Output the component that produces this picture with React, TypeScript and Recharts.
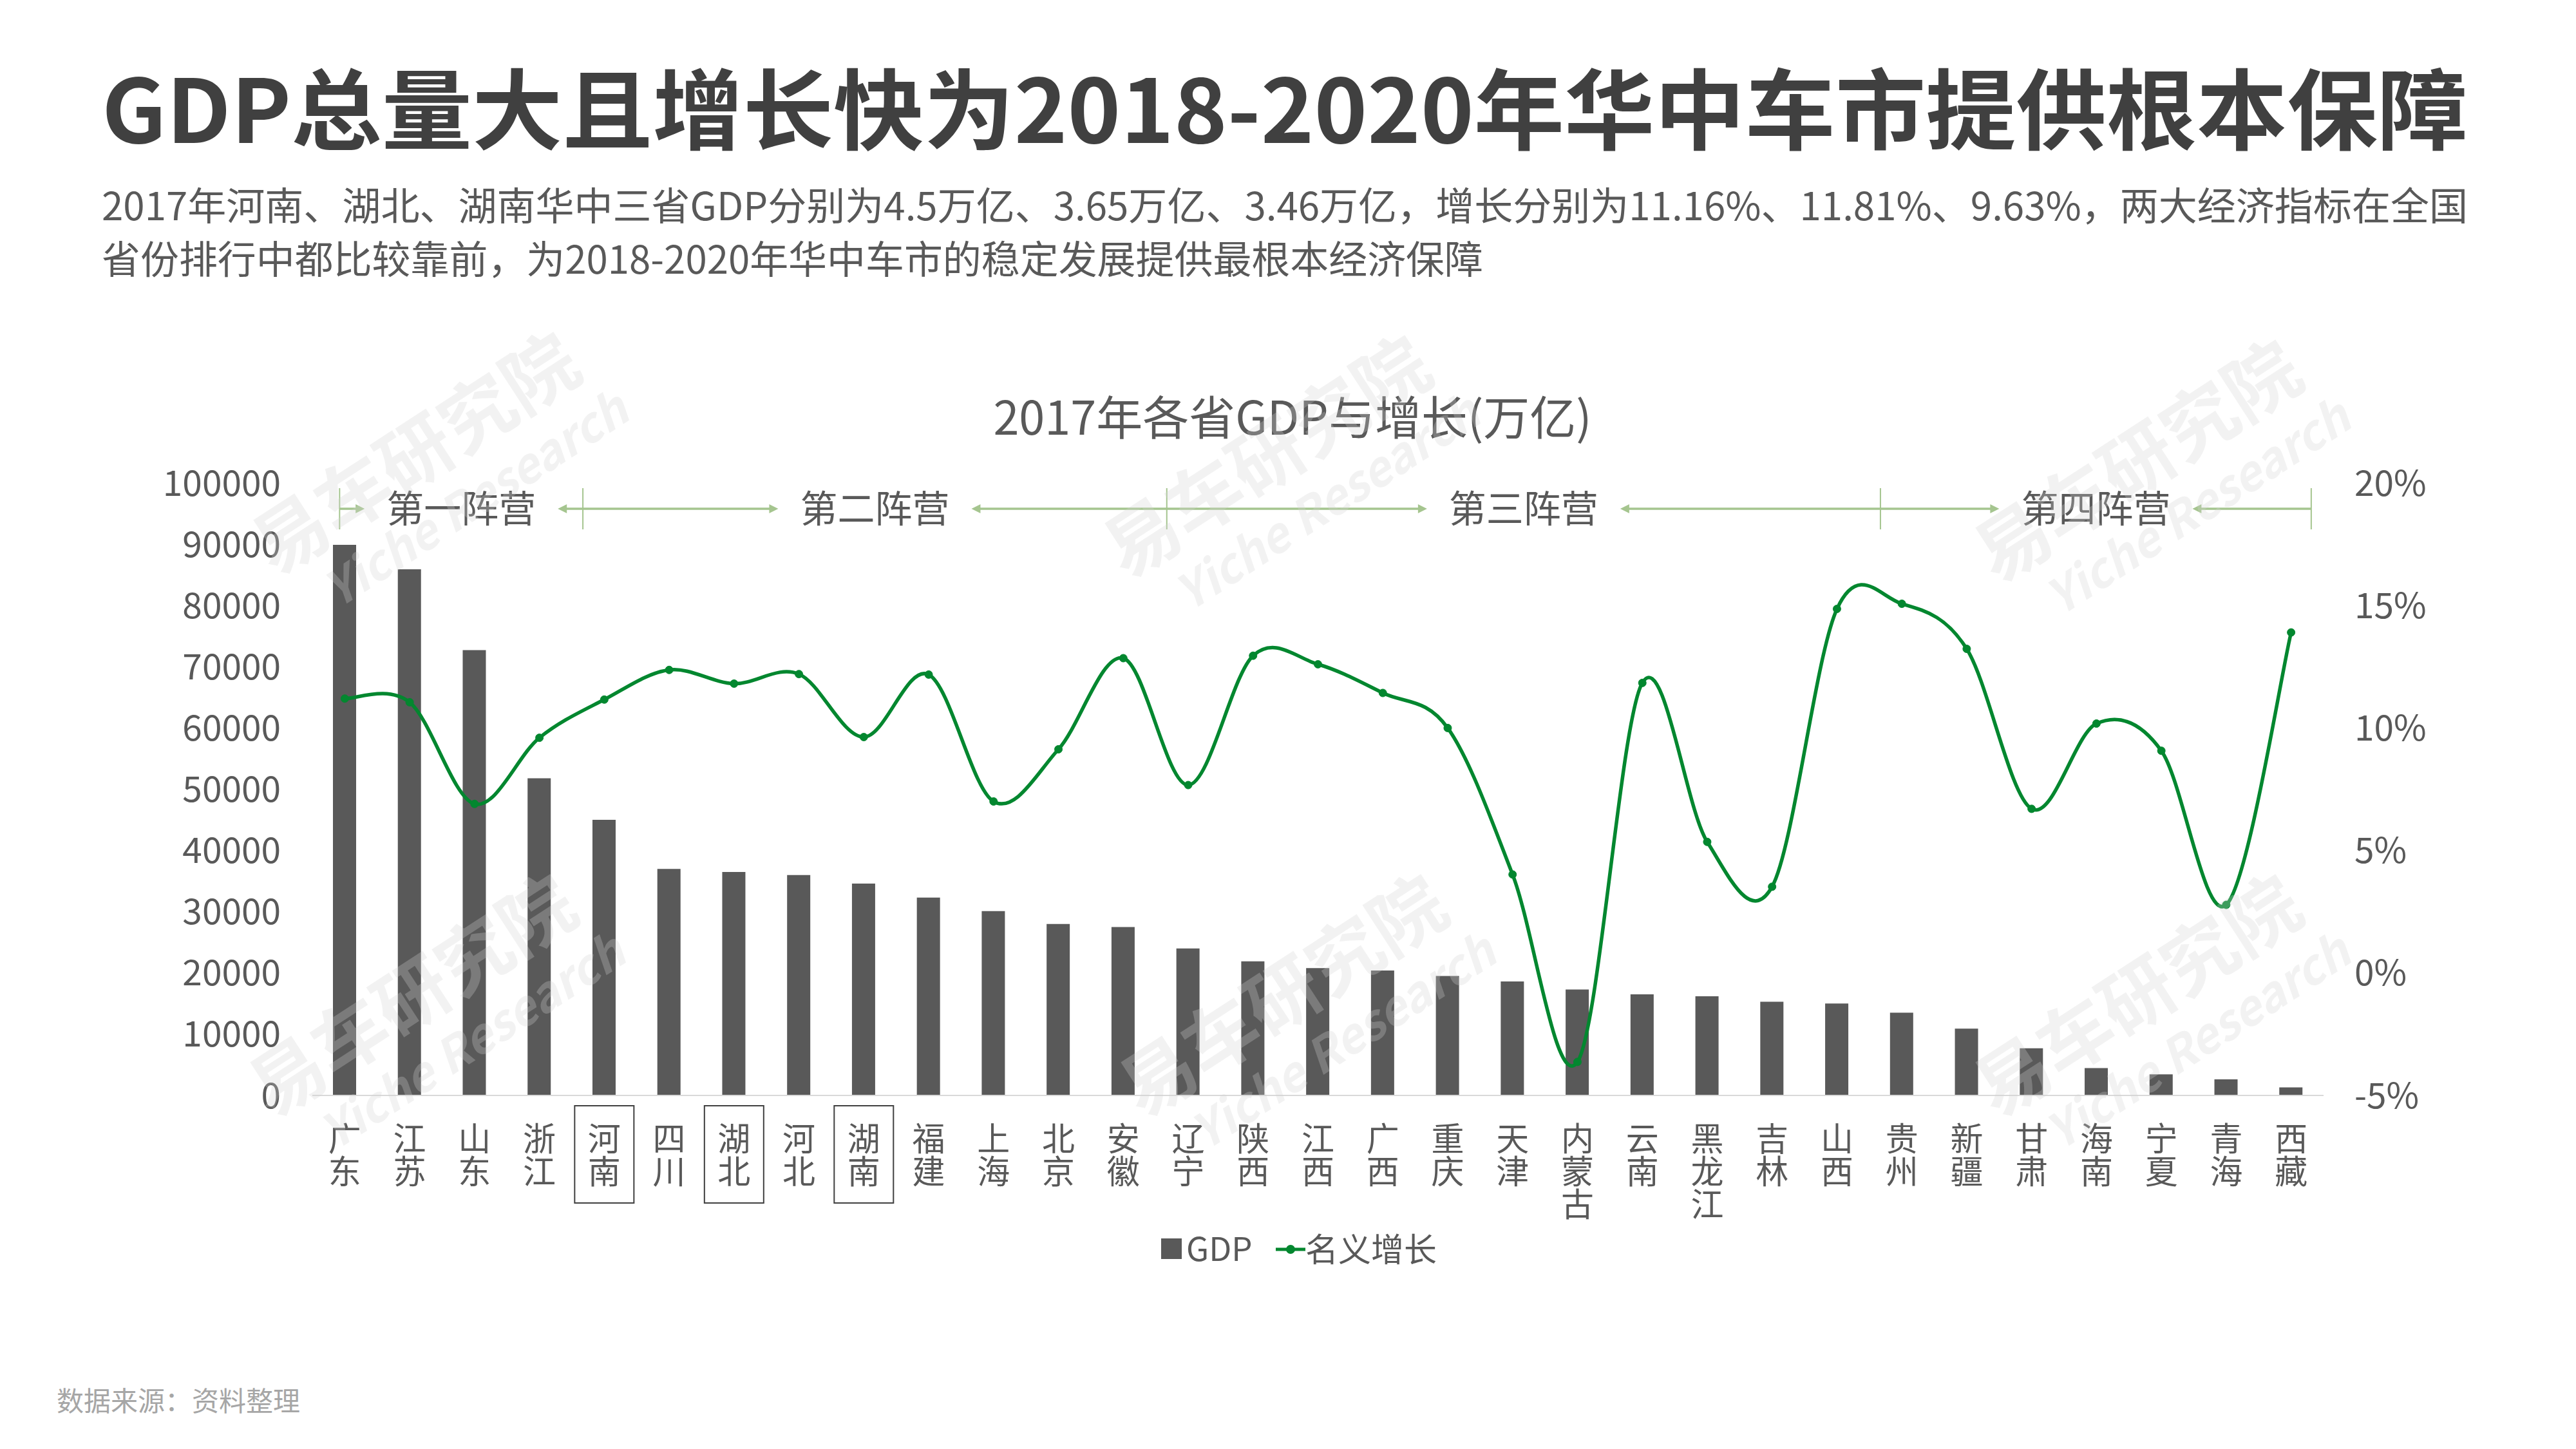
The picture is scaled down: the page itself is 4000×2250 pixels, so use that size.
import React from 'react';
import { ComposedChart, Bar, Line, XAxis, YAxis } from 'recharts';

const FONT = '"Noto Sans CJK SC", "Noto Sans", sans-serif';

const provinces = ['广东', '江苏', '山东', '浙江', '河南', '四川', '湖北', '河北', '湖南', '福建', '上海', '北京', '安徽', '辽宁', '陕西', '江西', '广西', '重庆', '天津', '内蒙古', '云南', '黑龙江', '吉林', '山西', '贵州', '新疆', '甘肃', '海南', '宁夏', '青海', '西藏'];
const gdpValues = [89900, 85900, 72700, 51800, 45000, 37000, 36500, 36000, 34600, 32300, 30100, 28000, 27500, 24000, 21900, 20800, 20400, 19500, 18600, 17300, 16500, 16200, 15300, 15000, 13500, 10900, 7700, 4460, 3450, 2640, 1310];
const growthValues = [11.2, 11.05, 6.9, 9.6, 11.16, 12.37, 11.81, 12.2, 9.63, 12.18, 7.0, 9.13, 12.85, 7.67, 12.95, 12.6, 11.43, 10.0, 4.02, -3.63, 11.84, 5.35, 3.52, 14.86, 15.07, 13.23, 6.7, 10.18, 9.07, 2.78, 13.9];
const leftTicks = [0, 10000, 20000, 30000, 40000, 50000, 60000, 70000, 80000, 90000, 100000];
const rightTicks = [-5, 0, 5, 10, 15, 20];
const boxedProvinces = ['河南', '湖北', '湖南'];
const campNames = ['第一阵营', '第二阵营', '第三阵营', '第四阵营'];
const campSizes = [4, 9, 11, 7];

const titleText = 'GDP总量大且增长快为2018-2020年华中车市提供根本保障';
const subtitleLines = [
  '2017年河南、湖北、湖南华中三省GDP分别为4.5万亿、3.65万亿、3.46万亿，增长分别为11.16%、11.81%、9.63%，两大经济指标在全国',
  '省份排行中都比较靠前，为2018-2020年华中车市的稳定发展提供最根本经济保障',
];
const chartTitle = '2017年各省GDP与增长(万亿)';
const legendGdp = 'GDP';
const legendGrowth = '名义增长';
const sourceText = '数据来源：资料整理';
const watermarkCn = '易车研究院';
const watermarkEn = 'Yiche Research';

const data = provinces.map((p, i) => ({ name: p, gdp: gdpValues[i], growth: growthValues[i] }));

const W = 4000;
const H = 2250;
const PLOT_LEFT = 485;
const PLOT_RIGHT = 3608;
const PLOT_TOP = 750;
const PLOT_BOTTOM = 1701;
const Y_W = 120;
const X_H = 200;
const margin = {
  top: PLOT_TOP,
  left: PLOT_LEFT - Y_W,
  right: W - PLOT_RIGHT - Y_W,
  bottom: H - PLOT_BOTTOM - X_H,
};

const GREEN = '#03872F';
const BAR = '#595959';
const TEXT = '#595959';
const CAMP = '#A5C58F';

// Excel-like smoothed line (Catmull-Rom through the points)
const excelSmooth = (context: any) => {
  let pts: number[][] = [];
  return {
    areaStart() {},
    areaEnd() {},
    lineStart() {
      pts = [];
    },
    lineEnd() {
      const n = pts.length;
      if (!n) return;
      context.moveTo(pts[0][0], pts[0][1]);
      for (let i = 0; i < n - 1; i++) {
        const p0 = pts[Math.max(i - 1, 0)];
        const p1 = pts[i];
        const p2 = pts[i + 1];
        const p3 = pts[Math.min(i + 2, n - 1)];
        context.bezierCurveTo(
          p1[0] + (p2[0] - p0[0]) / 6,
          p1[1] + (p2[1] - p0[1]) / 6,
          p2[0] - (p3[0] - p1[0]) / 6,
          p2[1] - (p3[1] - p1[1]) / 6,
          p2[0],
          p2[1]
        );
      }
    },
    point(x: number, y: number) {
      pts.push([+x, +y]);
    },
  };
};

const XTick = (props: any) => {
  const { x, y, payload } = props;
  const label = String(payload.value);
  const boxed = boxedProvinces.includes(label);
  return (
    <g>
      {boxed && (
        <rect x={x - 46} y={y + 8} width={92} height={151} fill="none" stroke="#404040" strokeWidth={2} />
      )}
      <text
        x={x}
        y={y + 33}
        fontSize={51}
        fill={TEXT}
        fontFamily={FONT}
        writingMode="tb"
        style={{ writingMode: 'vertical-rl' as any }}
      >
        {label}
      </text>
    </g>
  );
};

const Arrow = ({ from, to, y }: { from: number; to: number; y: number }) => {
  const dir = to > from ? 1 : -1;
  const head = 14;
  return (
    <g>
      <line x1={from} y1={y} x2={to - dir * head * 0.6} y2={y} stroke={CAMP} strokeWidth={3.5} />
      <polygon
        points={`${to},${y} ${to - dir * head},${y - 7} ${to - dir * head},${y + 7}`}
        fill={CAMP}
      />
    </g>
  );
};

const Camps = () => {
  const band = (PLOT_RIGHT - PLOT_LEFT) / provinces.length;
  const bounds: number[] = [0];
  let acc = 0;
  campSizes.forEach((s) => {
    acc += s;
    bounds.push(acc);
  });
  const tickX = bounds.map(
    (b, i) => PLOT_LEFT + band * (i === 0 ? b + 0.42 : i === bounds.length - 1 ? b - 0.19 : b + 0.17)
  );
  const y = 790;
  const fs = 58;
  return (
    <g>
      {tickX.map((x, i) => (
        <line key={'t' + i} x1={x} x2={x} y1={758} y2={822} stroke={CAMP} strokeWidth={2} />
      ))}
      {campNames.map((name, k) => {
        const L = tickX[k];
        const R = tickX[k + 1];
        const C = (L + R) / 2;
        const half = (fs * 4) / 2;
        return (
          <g key={name}>
            <Arrow from={L} to={C - half - 34} y={y} />
            <Arrow from={R} to={C + half + 34} y={y} />
            <text x={C} y={y + 21} textAnchor="middle" fontSize={fs} fill={TEXT} fontFamily={FONT}>
              {name}
            </text>
          </g>
        );
      })}
    </g>
  );
};

const watermarkCenters = [
  [668, 740],
  [1990, 745],
  [3342, 752],
  [663, 1582],
  [2015, 1582],
  [3342, 1582],
];

const Overlay = () => (
  <svg
    width={W}
    height={H}
    style={{ position: 'absolute', left: 0, top: 0, pointerEvents: 'none' }}
    fontFamily={FONT}
  >
    <text x={158} y={222} fontSize={136} fontWeight="bold" fill="#404040" textLength={3674} lengthAdjust="spacingAndGlyphs">
      {titleText}
    </text>
    <text x={158} y={342} fontSize={60} fill={TEXT} textLength={3674} lengthAdjust="spacingAndGlyphs">
      {subtitleLines[0]}
    </text>
    <text x={158} y={425} fontSize={60} fill={TEXT} textLength={2145} lengthAdjust="spacingAndGlyphs">
      {subtitleLines[1]}
    </text>
    <text x={2007} y={675} fontSize={72} fill={TEXT} textAnchor="middle">
      {chartTitle}
    </text>
    <Camps />
    {/* legend */}
    <rect x={1803} y={1923} width={32} height={32} fill={BAR} />
    <text x={1842} y={1958} fontSize={51} fill={TEXT}>
      {legendGdp}
    </text>
    <line x1={1981} x2={2027} y1={1940} y2={1940} stroke={GREEN} strokeWidth={5} />
    <circle cx={2004} cy={1940} r={7} fill={GREEN} />
    <text x={2027} y={1959} fontSize={51} fill={TEXT}>
      {legendGrowth}
    </text>
    <text x={88} y={2191} fontSize={42} fill="#A6A6A6">
      {sourceText}
    </text>
    {watermarkCenters.map(([cx, cy], i) => (
      <g key={i} transform={`translate(${cx},${cy}) rotate(-33)`} opacity={0.28}>
        <text x={0} y={0} textAnchor="middle" fontSize={115} fontWeight="bold" fill="#d4d4d4">
          {watermarkCn}
        </text>
        <text x={40} y={95} textAnchor="middle" fontSize={74} fontWeight="bold" fontStyle="italic" fill="#d4d4d4">
          {watermarkEn}
        </text>
      </g>
    ))}
  </svg>
);

export default function App() {
  return (
    <div style={{ position: 'absolute', left: 0, top: 0, width: W, height: H, background: '#fff', fontFamily: FONT }}>
      <ComposedChart width={W} height={H} data={data} margin={margin} barSize={36}>
        <XAxis
          dataKey="name"
          height={X_H}
          interval={0}
          tickLine={false}
          axisLine={{ stroke: '#D9D9D9', strokeWidth: 2 }}
          tick={(p: any) => <XTick {...p} />}
        />
        <YAxis
          yAxisId="left"
          width={Y_W}
          domain={[0, 100000]}
          ticks={leftTicks}
          axisLine={false}
          tickLine={false}
          tickSize={6}
          tickMargin={43}
          tick={{ fontSize: 55, fill: TEXT, fontFamily: FONT }}
        />
        <YAxis
          yAxisId="right"
          orientation="right"
          width={Y_W}
          domain={[-5, 20]}
          ticks={rightTicks}
          axisLine={false}
          tickLine={false}
          tickSize={6}
          tickMargin={42}
          tickFormatter={(v: number) => `${v}%`}
          tick={{ fontSize: 55, fill: TEXT, fontFamily: FONT, textAnchor: 'start' }}
        />
        <Bar yAxisId="left" dataKey="gdp" fill={BAR} isAnimationActive={false} />
        <Line
          yAxisId="right"
          dataKey="growth"
          type={excelSmooth as any}
          stroke={GREEN}
          strokeWidth={5.5}
          dot={{ r: 6, fill: GREEN, stroke: GREEN, strokeWidth: 1 }}
          activeDot={false}
          isAnimationActive={false}
        />
      </ComposedChart>
      <Overlay />
    </div>
  );
}
